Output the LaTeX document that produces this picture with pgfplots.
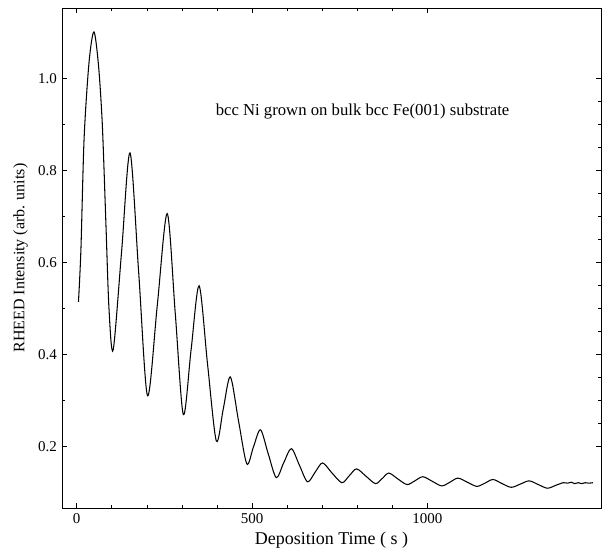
\documentclass[border=0pt]{standalone}
\usepackage{fontspec}
\setmainfont{Liberation Serif}
\usepackage{pgfplots}
\pgfplotsset{compat=1.18}
\begin{document}
\fontsize{15}{18}\selectfont
\begin{tikzpicture}
\path[use as bounding box] (-62pt,-49pt) rectangle (542pt,508pt);
\begin{axis}[
  at={(0,0)}, anchor=south west,
  scale only axis, width=539pt, height=500pt,
  xmin=-42, xmax=1495, ymin=0.067, ymax=1.154,
  xtick={0,500,1000}, minor x tick num=4,
  ytick={0.2,0.4,0.6,0.8,1.0}, minor y tick num=1,
  ytick pos=left,
  tick align=inside,
  major tick length=5pt, minor tick length=3pt,
  axis line style={line width=0.9pt},
  every tick/.style={black, line width=0.7pt},
  /pgf/number format/assume math mode=true,
  /pgf/number format/1000 sep={},
  yticklabel style={/pgf/number format/.cd, fixed, fixed zerofill, precision=1},
  xlabel={Deposition Time ( s )},
  ylabel={RHEED Intensity (arb. units)},
  xlabel style={font=\fontsize{18}{21}\selectfont, yshift=2pt},
  ylabel style={font=\fontsize{16}{19}\selectfont},
]
\addplot[black, line width=1.05pt, smooth, tension=0.5] coordinates {
(5,0.515) (12,0.63) (21,0.87) (35,1.035) (49,1.102) (62,1.03) (73,0.90) (83,0.69) (92,0.50) (104,0.411)
(128,0.625) (152,0.839) (177,0.575) (202,0.311) (230,0.51) (258,0.707) (281,0.49) (304,0.270)
(326,0.41) (349,0.550) (373,0.38) (398,0.213) (418,0.283) (438,0.352) (461,0.258) (485,0.163)
(504,0.200) (524,0.237) (546,0.185) (569,0.133) (590,0.165) (612,0.196) (635,0.160) (658,0.124)
(680,0.145) (701,0.165) (728,0.143) (756,0.122) (777,0.137) (798,0.152) (825,0.136) (852,0.120)
(871,0.131) (890,0.143) (916,0.130) (942,0.118) (964,0.126) (987,0.135) (1014,0.125) (1041,0.115)
(1064,0.123) (1087,0.132) (1114,0.123) (1141,0.114) (1164,0.121) (1187,0.129) (1213,0.120) (1239,0.112)
(1265,0.119) (1290,0.126) (1316,0.118) (1342,0.110) (1365,0.116) (1387,0.122)
(1400,0.121) (1410,0.123) (1420,0.120) (1430,0.122) (1440,0.120) (1450,0.122) (1460,0.121) (1472,0.122)
};
\node[font=\fontsize{16.7}{20}\selectfont] at (axis cs:815,0.928) {bcc Ni grown on bulk bcc Fe(001) substrate};
\end{axis}
\begin{axis}[
  at={(0,0)}, anchor=south west,
  scale only axis, width=539pt, height=500pt,
  xmin=-42, xmax=1495, ymin=0.067, ymax=1.154,
  hide x axis, axis y line*=right,
  ytick={0.2,0.4,0.6,0.8,1.0}, yticklabels={}, minor y tick num=3,
  tick align=inside,
  major tick length=5pt, minor tick length=3pt,
  axis line style={line width=0.9pt, -},
  every tick/.style={black, line width=0.7pt},
]
\end{axis}
\end{tikzpicture}
\end{document}
